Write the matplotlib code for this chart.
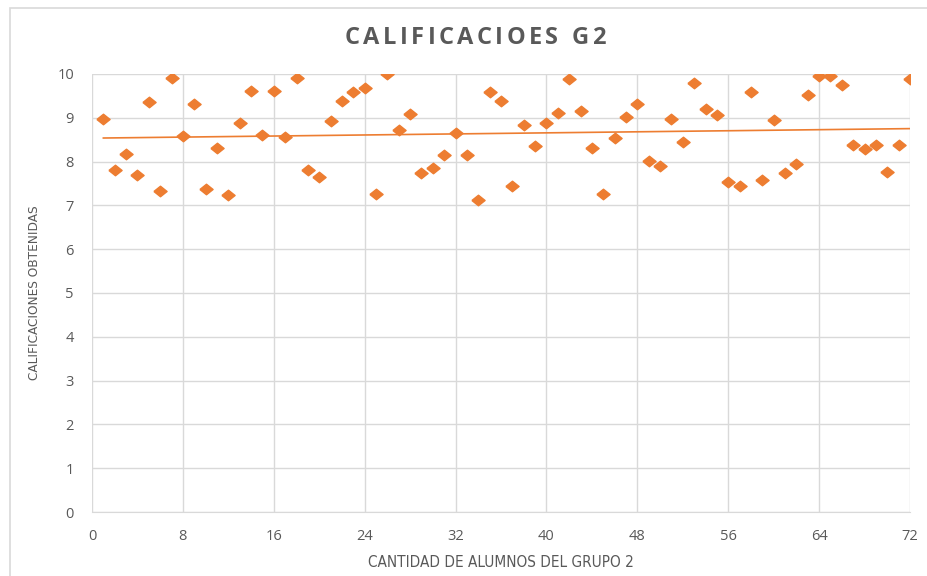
import numpy as np
import matplotlib
matplotlib.use("Agg")
import matplotlib.pyplot as plt
from matplotlib.patches import Rectangle

# alumnos del grupo 2 (1..72) y sus calificaciones
alumnos = list(range(1, 73))
calificaciones = [
    8.97, 7.80, 8.17, 7.70, 9.35, 7.32, 9.92, 8.58, 9.32, 7.38,
    8.32, 7.23, 8.89, 9.62, 8.60, 9.62, 8.56, 9.92, 7.80, 7.65,
    8.92, 9.38, 9.58, 9.68, 7.27, 10.0, 8.72, 9.09, 7.73, 7.86,
    8.16, 8.66, 8.14, 7.12, 9.58, 9.38, 7.44, 8.83, 8.35, 8.87,
    9.10, 9.89, 9.15, 8.32, 7.25, 8.54, 9.01, 9.31, 8.02, 7.91,
    8.97, 8.44, 9.80, 9.21, 9.06, 7.54, 7.45, 9.59, 7.59, 8.96,
    7.73, 7.94, 9.52, 9.95, 9.95, 9.75, 8.39, 8.28, 8.37, 7.76,
    8.37, 9.89,
]
xticks = list(range(0, 73, 8))
yticks = list(range(0, 11))
titulo = "CALIFICACIOES G2"

naranja = "#ED7D31"
gris = "#595959"

fig = plt.figure(figsize=(9.27, 5.76), dpi=100)
ax = fig.add_axes([92 / 927, 1 - 512 / 576, 818 / 927, 438 / 576])

# marco del grafico
fig.patches.append(Rectangle((10 / 927, -0.05), 1.2, 1 - 8 / 576 + 0.05,
                             transform=fig.transFigure, fill=False,
                             edgecolor="#d9d9d9", linewidth=1.2))

diamante = [(-1, 0), (0, 0.8), (1, 0), (0, -0.8), (-1, 0)]
ax.plot(alumnos, calificaciones, linestyle="none", marker=diamante,
        markersize=9.5, color=naranja, zorder=3)

# linea de tendencia lineal
m, b = np.polyfit(alumnos, calificaciones, 1)
xt = np.array([alumnos[0], alumnos[-1]])
ax.plot(xt, m * xt + b, color=naranja, linewidth=1.2, zorder=2)

ax.set_xlim(0, 72)
ax.set_ylim(0, 10)
ax.set_xticks(xticks)
ax.set_yticks(yticks)
ax.grid(True, color="#d9d9d9", linewidth=1)
ax.set_axisbelow(True)
for s in ["top", "right", "left"]:
    ax.spines[s].set_visible(False)
ax.spines["bottom"].set_color("#d9d9d9")
ax.tick_params(length=0, colors=gris, labelsize=10.5)
ax.tick_params(axis="x", pad=12)
ax.tick_params(axis="y", pad=13)
for lbl in ax.get_xticklabels() + ax.get_yticklabels():
    lbl.set_fontfamily(["Open Sans", "DejaVu Sans"])

# titulo con espaciado entre letras
renderer = fig.canvas.get_renderer()
fuente = dict(fontsize=17, fontweight="bold", family=["Open Sans", "DejaVu Sans"])
espacio = 3.5  # px extra entre letras
anchos = []
for i in range(len(titulo) + 1):
    t = fig.text(0, 0, titulo[:i] + "|", **fuente)
    bar = fig.text(0, 0, "|", **fuente)
    anchos.append(t.get_window_extent(renderer).width - bar.get_window_extent(renderer).width)
    t.remove()
    bar.remove()
total = anchos[-1] + espacio * (len(titulo) - 1)
x0 = 475 - total / 2
for i, c in enumerate(titulo):
    fig.text((x0 + anchos[i] + espacio * i) / 927, 1 - 38 / 576, c,
             ha="left", va="center", color=gris, **fuente)

ax.set_xlabel("CANTIDAD DE ALUMNOS DEL GRUPO 2", color=gris, fontsize=11,
              family="DejaVu Sans", fontstretch="condensed", labelpad=8)
ax.set_ylabel("CALIFICACIONES OBTENIDAS", color=gris, fontsize=9.7,
              family="DejaVu Sans", fontstretch="condensed", labelpad=12)

fig.savefig("out.png", dpi=100)
